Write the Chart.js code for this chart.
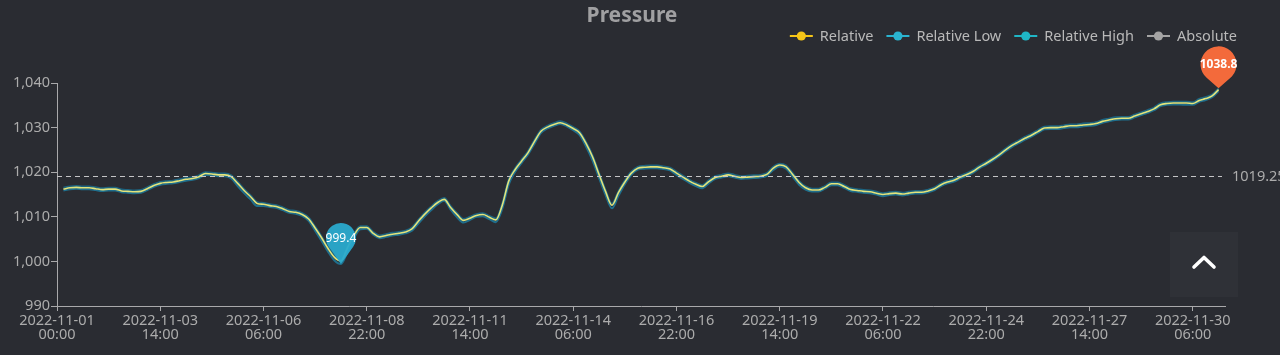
<!DOCTYPE html>
<html>
<head>
<meta charset="utf-8">
<script src="https://cdn.jsdelivr.net/npm/chart.js@4.4.1/dist/chart.umd.min.js"></script>
<style>
  html, body { margin: 0; padding: 0; background: #2a2c32; overflow: hidden; }
  #wrap { position: relative; width: 1280px; height: 355px; }
  #up { position: absolute; left: 1170px; top: 232px; width: 68px; height: 65px; background: #2f3137; }
  #up svg { position: absolute; left: 0; top: 0; }
</style>
</head>
<body>
<div id="wrap">
  <canvas id="c" width="1280" height="355"></canvas>
  <div id="up"><svg width="68" height="65"><polyline points="24,35 34,25.5 44,35" fill="none" stroke="#ffffff" stroke-width="3.6" stroke-linecap="round" stroke-linejoin="round"/></svg></div>
</div>
<script>
// ---------------- data ----------------
const chartTitle = 'Pressure';
const tickEvery = 16;          // categories between labelled ticks
const categoryCount = 182;     // number of category slots on the x axis
const tickLabels = [
  ['2022-11-01', '00:00'], ['2022-11-03', '14:00'], ['2022-11-06', '06:00'],
  ['2022-11-08', '22:00'], ['2022-11-11', '14:00'], ['2022-11-14', '06:00'],
  ['2022-11-16', '22:00'], ['2022-11-19', '14:00'], ['2022-11-22', '06:00'],
  ['2022-11-24', '22:00'], ['2022-11-27', '14:00'], ['2022-11-30', '06:00']
];
const relative = [null,
  1016.2,1016.5,1016.6,1016.5,1016.5,1016.3,1016.1,1016.2,1016.2,1015.8,
  1015.7,1015.6,1015.7,1016.3,1017.0,1017.5,1017.7,1017.8,1018.1,1018.4,
  1018.6,1019.0,1019.7,1019.6,1019.4,1019.4,1019.0,1017.5,1015.9,1014.5,
  1013.0,1012.8,1012.5,1012.3,1011.8,1011.2,1011.0,1010.5,1009.5,1007.5,
  1005.3,1002.9,1000.9,1000.1,1003.0,1005.8,1007.6,1007.6,1006.3,1005.5,
  1005.8,1006.1,1006.3,1006.6,1007.3,1009.0,1010.6,1012.0,1013.2,1013.9,
  1012.1,1010.5,1009.2,1009.7,1010.3,1010.5,1009.9,1009.3,1012.6,1018.0,
  1020.6,1022.5,1024.4,1026.9,1029.2,1030.1,1030.7,1031.1,1030.6,1029.8,
  1028.8,1026.4,1023.4,1019.5,1015.7,1012.6,1015.4,1017.8,1019.8,1020.9,
  1021.1,1021.2,1021.2,1021.0,1020.7,1019.8,1018.9,1018.0,1017.3,1016.8,
  1017.9,1018.8,1019.1,1019.4,1019.1,1018.8,1018.9,1019.0,1019.1,1019.5,
  1020.9,1021.6,1021.2,1019.5,1017.7,1016.5,1016.0,1016.0,1016.6,1017.4,
  1017.4,1016.8,1016.1,1015.9,1015.7,1015.6,1015.3,1015.0,1015.2,1015.3,
  1015.1,1015.3,1015.5,1015.5,1015.8,1016.3,1017.2,1017.8,1018.2,1018.9,
  1019.5,1020.2,1021.2,1022.0,1022.9,1023.9,1025.0,1026.0,1026.8,1027.6,
  1028.3,1029.1,1029.9,1030.0,1030.0,1030.2,1030.4,1030.4,1030.6,1030.7,
  1030.9,1031.4,1031.7,1032.0,1032.1,1032.1,1032.6,1033.1,1033.6,1034.2,
  1035.1,1035.4,1035.5,1035.5,1035.5,1035.4,1036.1,1036.5,1037.1,1038.5
];
const relativeLow = [null,
  1015.9,1016.2,1016.3,1016.2,1016.2,1016.0,1015.8,1015.9,1015.9,1015.5,
  1015.4,1015.3,1015.4,1016.0,1016.7,1017.2,1017.4,1017.5,1017.8,1018.1,
  1018.3,1018.7,1019.4,1019.3,1019.1,1019.1,1018.6,1016.9,1015.3,1013.9,
  1012.4,1012.4,1012.2,1012.0,1011.5,1010.9,1010.7,1010.2,1009.1,1006.9,
  1004.6,1002.2,1000.2,999.4,1002.1,1005.2,1007.2,1007.3,1006.0,1005.2,
  1005.5,1005.8,1006.0,1006.3,1006.9,1008.5,1010.1,1011.5,1012.8,1013.6,
  1011.6,1009.9,1008.7,1009.3,1010.0,1010.1,1009.5,1008.8,1011.8,1017.2,
  1020.1,1022.1,1024.0,1026.4,1028.8,1029.8,1030.4,1030.8,1030.3,1029.4,
  1028.3,1025.7,1022.6,1018.7,1014.9,1011.9,1014.7,1017.3,1019.4,1020.6,
  1020.8,1020.9,1020.9,1020.7,1020.4,1019.4,1018.5,1017.6,1016.9,1016.4,
  1017.5,1018.5,1018.8,1019.1,1018.8,1018.5,1018.6,1018.7,1018.8,1019.2,
  1020.5,1021.3,1020.8,1019.0,1017.2,1016.1,1015.7,1015.7,1016.3,1017.1,
  1017.1,1016.5,1015.8,1015.6,1015.4,1015.3,1015.0,1014.6,1014.9,1015.0,
  1014.8,1015.0,1015.2,1015.2,1015.5,1016.0,1016.9,1017.5,1017.9,1018.6,
  1019.2,1019.9,1020.9,1021.7,1022.6,1023.6,1024.7,1025.7,1026.5,1027.3,
  1028.0,1028.8,1029.6,1029.7,1029.7,1029.9,1030.1,1030.1,1030.3,1030.4,
  1030.6,1031.1,1031.4,1031.7,1031.8,1031.8,1032.3,1032.8,1033.3,1033.9,
  1034.8,1035.1,1035.2,1035.2,1035.1,1035.1,1035.8,1036.2,1036.8,1038.2
];
const relativeHigh = [null,
  1016.5,1016.8,1016.9,1016.8,1016.8,1016.6,1016.4,1016.5,1016.5,1016.1,
  1016.0,1015.9,1016.0,1016.6,1017.3,1017.8,1018.0,1018.1,1018.4,1018.7,
  1018.9,1019.3,1020.0,1019.9,1019.7,1019.7,1019.3,1017.8,1016.2,1014.8,
  1013.3,1013.1,1012.8,1012.6,1012.1,1011.5,1011.3,1010.8,1009.8,1007.8,
  1005.6,1003.2,1001.2,1000.4,1003.3,1006.1,1007.9,1007.9,1006.6,1005.8,
  1006.1,1006.4,1006.6,1006.9,1007.6,1009.3,1010.9,1012.3,1013.5,1014.2,
  1012.4,1010.8,1009.5,1010.0,1010.6,1010.8,1010.2,1009.6,1012.9,1018.3,
  1020.9,1022.8,1024.7,1027.2,1029.5,1030.4,1031.0,1031.4,1030.9,1030.1,
  1029.1,1026.7,1023.7,1019.8,1016.0,1012.9,1015.7,1018.1,1020.1,1021.2,
  1021.4,1021.5,1021.5,1021.3,1021.0,1020.1,1019.2,1018.3,1017.6,1017.1,
  1018.2,1019.1,1019.4,1019.7,1019.4,1019.1,1019.2,1019.3,1019.4,1019.8,
  1021.2,1021.9,1021.5,1019.8,1018.0,1016.8,1016.3,1016.3,1016.9,1017.7,
  1017.7,1017.1,1016.4,1016.2,1016.0,1015.9,1015.6,1015.3,1015.5,1015.6,
  1015.4,1015.6,1015.8,1015.8,1016.1,1016.6,1017.5,1018.1,1018.5,1019.2,
  1019.8,1020.5,1021.5,1022.3,1023.2,1024.2,1025.3,1026.3,1027.1,1027.9,
  1028.6,1029.4,1030.2,1030.3,1030.3,1030.5,1030.7,1030.7,1030.9,1031.0,
  1031.2,1031.7,1032.0,1032.3,1032.4,1032.4,1032.9,1033.4,1033.9,1034.5,
  1035.4,1035.7,1035.8,1035.8,1035.8,1035.7,1036.4,1036.8,1037.4,1038.8
];
const absolute = [];
const averageValue = 1019.25;
const yMin = 990, yMax = 1040, yStep = 10;

// ---------------- styling / layout ----------------
const FONT = "'Noto Sans', 'DejaVu Sans', sans-serif";
const AXIS_COLOR = '#a9a9ab';
const TEXT_COLOR = '#acacac';
const PLOT = { left: 57, right: 1225, top: 83, bottom: 306 };
const LEGEND_RIGHT = 1237, LEGEND_Y = 36;
const TITLE_BOX = 3 + 21 * 1.2; // title padding-top + line height

function toPoints(arr) { return arr.map((v, i) => ({ x: i, y: v })); }

function drawPin(ctx, px, py, r, d, color, text, font) {
  const cy = py - d;
  const th = Math.acos(r / d);
  ctx.beginPath();
  ctx.moveTo(px, py);
  ctx.arc(px, cy, r, Math.PI / 2 + th, Math.PI / 2 - th);
  ctx.closePath();
  ctx.fillStyle = color;
  ctx.fill();
  ctx.fillStyle = '#ffffff';
  ctx.font = font;
  ctx.textAlign = 'center';
  ctx.textBaseline = 'middle';
  ctx.fillText(text, px, cy + 0.5);
}

const overlayPlugin = {
  id: 'overlay',
  afterDatasetsDraw(chart) {
    const { ctx, chartArea, scales: { x, y } } = chart;
    ctx.save();
    // average mark line
    const ya = Math.round(y.getPixelForValue(averageValue)) + 0.5;
    ctx.strokeStyle = '#c4c4c6';
    ctx.lineWidth = 1;
    ctx.setLineDash([5, 4]);
    ctx.beginPath();
    ctx.moveTo(chartArea.left, ya);
    ctx.lineTo(chartArea.right - 3, ya);
    ctx.stroke();
    ctx.setLineDash([]);
    ctx.fillStyle = TEXT_COLOR;
    ctx.font = '14.5px ' + FONT;
    ctx.textAlign = 'left';
    ctx.textBaseline = 'middle';
    ctx.fillText(String(averageValue), chartArea.right + 7, ya);

    // min / max mark points
    let minV = Infinity, minI = -1, maxV = -Infinity, maxI = -1;
    relativeLow.forEach((v, i) => { if (v !== null && v < minV) { minV = v; minI = i; } });
    relativeHigh.forEach((v, i) => { if (v !== null && v > maxV) { maxV = v; maxI = i; } });
    drawPin(ctx, x.getPixelForValue(minI), y.getPixelForValue(minV), 15, 26, 'rgba(42,170,206,0.95)', minV.toFixed(1), '12px ' + FONT);
    drawPin(ctx, x.getPixelForValue(maxI), y.getPixelForValue(maxV), 18, 24, '#f36a3b', maxV.toFixed(1), 'bold 12px ' + FONT);
    ctx.restore();
  },
  afterDraw(chart) {
    // legend (line + dot icons)
    const { ctx } = chart;
    ctx.save();
    ctx.font = '14.5px ' + FONT;
    const items = chart.data.datasets.map(ds => ({ text: ds.label, color: ds.legendColor, w: ctx.measureText(ds.label).width }));
    const ICON = 23, GAP = 7, SPACE = 13;
    let total = 0;
    items.forEach((it, i) => { total += ICON + GAP + it.w + (i ? SPACE : 0); });
    let xx = LEGEND_RIGHT - total;
    items.forEach(it => {
      ctx.strokeStyle = it.color;
      ctx.lineWidth = 2;
      ctx.beginPath();
      ctx.moveTo(xx, LEGEND_Y);
      ctx.lineTo(xx + ICON, LEGEND_Y);
      ctx.stroke();
      ctx.beginPath();
      ctx.arc(xx + ICON / 2, LEGEND_Y, 4.6, 0, Math.PI * 2);
      ctx.fillStyle = it.color;
      ctx.fill();
      ctx.fillStyle = '#b9b9b9';
      ctx.textAlign = 'left';
      ctx.textBaseline = 'middle';
      ctx.fillText(it.text, xx + ICON + GAP, LEGEND_Y + 0.5);
      xx += ICON + GAP + it.w + SPACE;
    });
    ctx.restore();
  }
};

function makeChart() {
  const ctx = document.getElementById('c').getContext('2d');
  new Chart(ctx, {
    type: 'line',
    data: {
      datasets: [
        { label: 'Relative', legendColor: '#f5c518', data: toPoints(relative),
          borderColor: '#e2e47c', borderWidth: 1.6, pointRadius: 0, cubicInterpolationMode: 'monotone' },
        { label: 'Relative Low', legendColor: '#2ab4d0', data: toPoints(relativeLow),
          borderColor: 'rgba(30,118,150,0.9)', borderWidth: 2, pointRadius: 0, cubicInterpolationMode: 'monotone' },
        { label: 'Relative High', legendColor: '#1fb6c6', data: toPoints(relativeHigh),
          borderColor: 'rgba(28,105,135,0.9)', borderWidth: 2, pointRadius: 0, cubicInterpolationMode: 'monotone' },
        { label: 'Absolute', legendColor: '#a4a4a4', data: toPoints(absolute),
          borderColor: '#a4a4a4', borderWidth: 1.6, pointRadius: 0 }
      ]
    },
    options: {
      responsive: false,
      animation: false,
      events: [],
      layout: { padding: { left: 0, right: 16, top: 0, bottom: 0 } },
      plugins: {
        legend: { display: false },
        tooltip: { enabled: false },
        title: {
          display: true, text: chartTitle, color: '#a0a0a2',
          font: { family: FONT, size: 21, weight: 'bold', lineHeight: 1.2 },
          padding: { top: 3, bottom: PLOT.top - TITLE_BOX }
        }
      },
      scales: {
        x: {
          type: 'linear',
          min: 0,
          max: categoryCount - 1,
          afterBuildTicks(axis) {
            axis.ticks = tickLabels.map((_, k) => ({ value: k * tickEvery }));
          },
          afterFit(axis) {
            axis.height = 355 - PLOT.bottom;
            axis.paddingLeft = 0;
            axis.paddingRight = 1280 - PLOT.right;
          },
          ticks: {
            autoSkip: false, maxRotation: 0, minRotation: 0,
            color: TEXT_COLOR, padding: 3,
            font: { family: FONT, size: 14.5, lineHeight: '14px' },
            callback: (v) => tickLabels[Math.round(v / tickEvery)]
          },
          grid: { display: true, drawOnChartArea: false, drawTicks: true, tickLength: 5, color: AXIS_COLOR },
          border: { display: true, color: AXIS_COLOR, width: 1 }
        },
        y: {
          min: yMin, max: yMax,
          afterFit(axis) {
            axis.width = PLOT.left;
            axis.paddingTop = 0;
            axis.paddingBottom = 0;
          },
          ticks: {
            stepSize: yStep, color: TEXT_COLOR, padding: 1,
            font: { family: FONT, size: 14.5 },
            callback: (v) => v.toLocaleString('en-US')
          },
          grid: { display: true, drawOnChartArea: false, drawTicks: true, tickLength: 6, color: AXIS_COLOR },
          border: { display: true, color: AXIS_COLOR, width: 1 }
        }
      }
    },
    plugins: [overlayPlugin]
  });
}

if (document.fonts && document.fonts.load) {
  Promise.all([
    document.fonts.load("14px 'Noto Sans'"),
    document.fonts.load("bold 14px 'Noto Sans'")
  ]).catch(() => {}).finally(makeChart);
} else {
  makeChart();
}
</script>
</body>
</html>
